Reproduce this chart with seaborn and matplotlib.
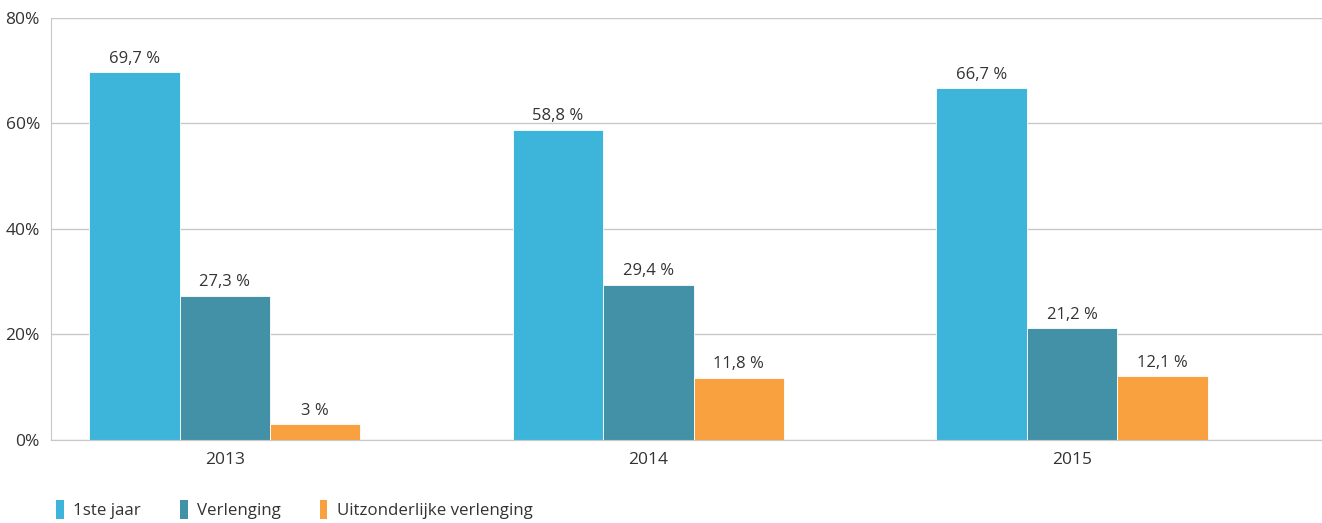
import pandas as pd
import matplotlib.pyplot as plt
import seaborn as sns
from matplotlib.patches import Patch

years = ['2013', '2014', '2015']
series = ['1ste jaar', 'Verlenging', 'Uitzonderlijke verlenging']
eerste_jaar = [69.7, 58.8, 66.7]
verlenging = [27.3, 29.4, 21.2]
uitzonderlijk = [3.0, 11.8, 12.1]
colors = ['#3DB5DA', '#4391A6', '#F9A03F']

df = pd.DataFrame({
    'jaar': years * 3,
    'type': [s for s in series for _ in years],
    'waarde': eerste_jaar + verlenging + uitzonderlijk,
})

sns.set_style('white')
plt.rcParams['font.family'] = ['Open Sans', 'DejaVu Sans']
fig = plt.figure(figsize=(13.22, 5.23), dpi=100)
ax = fig.add_axes([0.0386, 0.1587, 0.9614, 0.807])

sns.barplot(data=df, x='jaar', y='waarde', hue='type', palette=colors,
            width=0.64, dodge=True, saturation=1, ax=ax, legend=False,
            edgecolor='white', linewidth=0.6)

for cont in ax.containers:
    labels = [('%g' % v).replace('.', ',') + ' %' for v in cont.datavalues]
    ax.bar_label(cont, labels=labels, padding=4, fontsize=12, color='#333333')

ax.set_xlim(-0.41, 2.59)
ax.set_ylim(0, 80)
ax.set_yticks([0, 20, 40, 60, 80])
ax.set_yticklabels(['0%', '20%', '40%', '60%', '80%'])
ax.yaxis.grid(True, color='#c8c8c8', linewidth=1)
ax.set_axisbelow(True)
ax.set_xlabel('')
ax.set_ylabel('')
ax.tick_params(axis='both', labelsize=12.5, colors='#333333', length=0)
ax.tick_params(axis='y', pad=8)
ax.tick_params(axis='x', pad=9)
for s in ['top', 'right']:
    ax.spines[s].set_visible(False)
ax.spines['left'].set_color('#c8c8c8')
ax.spines['bottom'].set_color('#c8c8c8')

handles = [Patch(facecolor=c, edgecolor='none') for c in colors]
fig.legend(handles, series, loc='lower left', bbox_to_anchor=(0.031, -0.022),
           ncol=3, frameon=False, fontsize=12.2, handlelength=0.45,
           handleheight=1.3, handletextpad=0.55, columnspacing=2.3,
           labelcolor='#333333')

fig.savefig('out.png', dpi=100)
